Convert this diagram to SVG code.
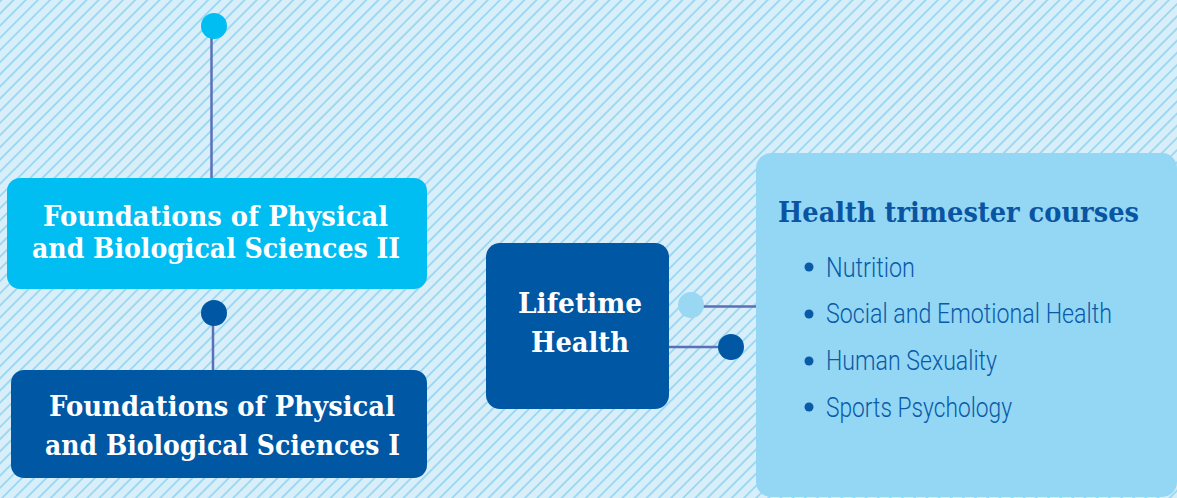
<svg xmlns="http://www.w3.org/2000/svg" width="1177" height="498" viewBox="0 0 1177 498">
  <style>
    .serif { font-family: "DejaVu Serif", "Liberation Serif", serif; font-weight: bold; }
    .boxtxt { fill: #ffffff; font-size: 27px; }
    .title { fill: #0a55a2; font-size: 28px; }
    .item { font-family: Roboto, "Liberation Sans", sans-serif; font-weight: 300; font-size: 28px; fill: #0a5aa8; }
    .conn { stroke: #5b70b8; stroke-width: 2.5; fill: none; }
    .bullet { fill: #0a5aa8; }
  </style>
  <defs>
    <pattern id="hatch" patternUnits="userSpaceOnUse" width="8.6" height="20" patternTransform="rotate(45)">
      <rect x="0" y="0" width="8.6" height="20" fill="#d8effa"/>
      <line x1="1" y1="0" x2="1" y2="20" stroke="#86cff0" stroke-width="1.4"/>
    </pattern>
  </defs>

  <rect x="0" y="0" width="1177" height="498" fill="url(#hatch)"/>

  <g id="connectors">
    <line class="conn" x1="211.5" y1="26" x2="211.5" y2="180"/>
    <circle cx="214" cy="26" r="13" fill="#00bdf2"/>
    <line class="conn" x1="213" y1="313" x2="213" y2="372"/>
    <circle cx="214" cy="313" r="13" fill="#0057a4"/>
    <line class="conn" x1="691" y1="306.5" x2="757" y2="306.5"/>
    <circle cx="691" cy="305" r="13" fill="#9ad7f3"/>
    <line class="conn" x1="667" y1="347" x2="731" y2="347"/>
    <circle cx="731" cy="347" r="13" fill="#0057a4"/>
  </g>

  <g id="node-fpbs2">
    <rect x="7" y="178" width="420" height="111" rx="13" fill="#00bdf2"/>
    <text class="serif boxtxt" x="43" y="226" textLength="345" lengthAdjust="spacingAndGlyphs">Foundations of Physical</text>
    <text class="serif boxtxt" x="32" y="258" textLength="368" lengthAdjust="spacingAndGlyphs">and Biological Sciences II</text>
  </g>

  <g id="node-fpbs1">
    <rect x="11" y="370" width="416" height="108" rx="13" fill="#0057a4"/>
    <text class="serif boxtxt" x="49" y="416" textLength="346" lengthAdjust="spacingAndGlyphs">Foundations of Physical</text>
    <text class="serif boxtxt" x="45" y="455" textLength="355" lengthAdjust="spacingAndGlyphs">and Biological Sciences I</text>
  </g>

  <g id="node-lifetime">
    <rect x="486" y="243" width="183" height="166" rx="14" fill="#0057a4"/>
    <text class="serif boxtxt" x="518" y="313" textLength="124" lengthAdjust="spacingAndGlyphs">Lifetime</text>
    <text class="serif boxtxt" x="531" y="352" textLength="98" lengthAdjust="spacingAndGlyphs">Health</text>
  </g>

  <g id="node-health-courses">
    <rect x="756" y="153" width="421" height="344" rx="15" fill="#93d7f5"/>
    <text class="serif title" x="778" y="222" textLength="361" lengthAdjust="spacingAndGlyphs">Health trimester courses</text>
    <circle class="bullet" cx="809" cy="267" r="4.5"/>
    <text class="item" x="826" y="277" textLength="89" lengthAdjust="spacingAndGlyphs">Nutrition</text>
    <circle class="bullet" cx="809" cy="314" r="4.5"/>
    <text class="item" x="826" y="323" textLength="286" lengthAdjust="spacingAndGlyphs">Social and Emotional Health</text>
    <circle class="bullet" cx="809" cy="361" r="4.5"/>
    <text class="item" x="826" y="370" textLength="171" lengthAdjust="spacingAndGlyphs">Human Sexuality</text>
    <circle class="bullet" cx="809" cy="407" r="4.5"/>
    <text class="item" x="826" y="417" textLength="186" lengthAdjust="spacingAndGlyphs">Sports Psychology</text>
  </g>
</svg>
